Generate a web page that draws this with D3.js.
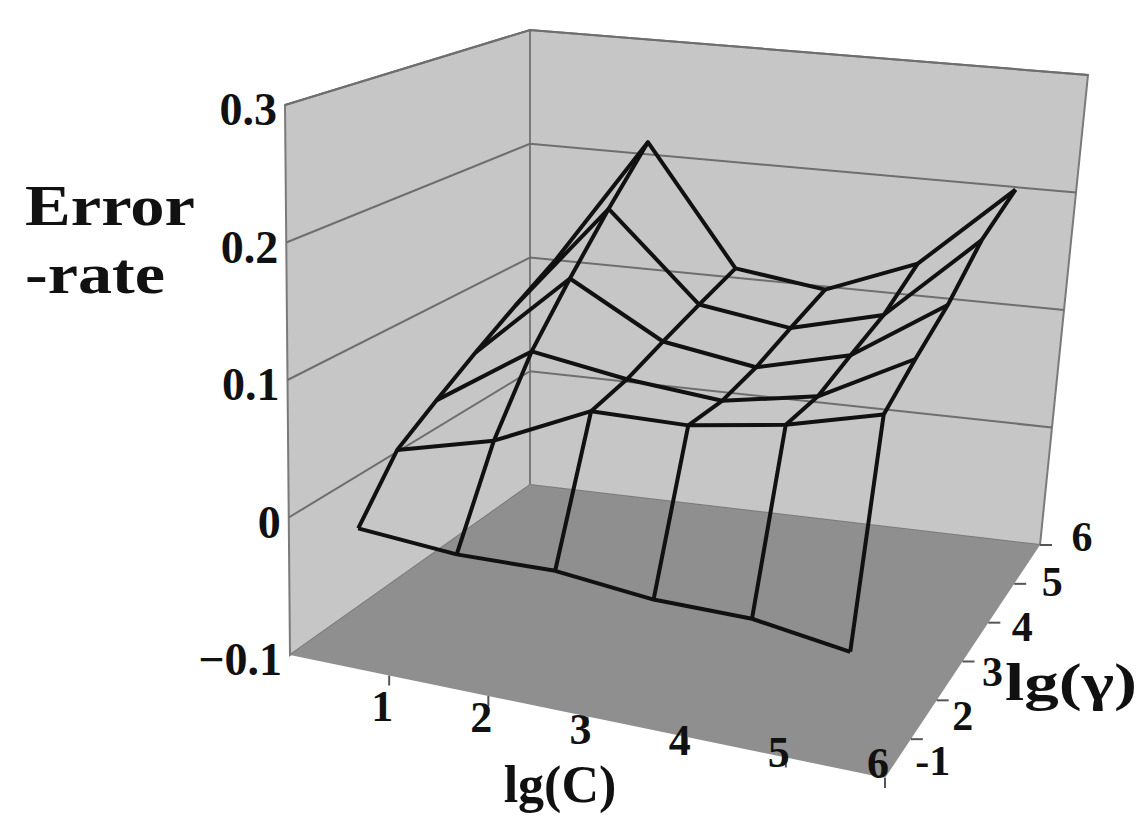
<!DOCTYPE html>
<html><head><meta charset="utf-8">
<script src="https://cdn.jsdelivr.net/npm/d3@7"></script>
<style>body{margin:0;background:#fff}text{font-family:"Liberation Serif",serif;font-weight:bold;fill:#111}</style>
</head><body><div class="chart"></div>
<script>
// lg(C) columns and lg(gamma) rows (front to back)
const cTicks = ['1', '2', '3', '4', '5', '6']
const gTicks = ['-1', '2', '3', '4', '5', '6']
const zTicks = [-0.1, 0, 0.1, 0.2, 0.3]
const errRows = [
    [-0.01, -0.015, -0.013, -0.02, -0.02, -0.03],
    [0.03, 0.05, 0.085, 0.087, 0.10, 0.12],
    [0.05, 0.10, 0.09, 0.085, 0.10, 0.14],
    [0.07, 0.14, 0.10, 0.09, 0.11, 0.16],
    [0.09, 0.18, 0.11, 0.10, 0.12, 0.19],
    [0.11, 0.22, 0.12, 0.11, 0.14, 0.21]
]

const svg = d3.select('.chart').append('svg').attr('width', 1146).attr('height', 822)

const uScale = d3.scaleLinear().domain([0, 6]).range([0, 1])
const vScale = d3.scaleLinear().domain([0, 6]).range([0, 1])
const wScale = d3.scaleLinear().domain([-0.1, 0.3]).range([0, 1])

// box corners on screen: bottom (z=-0.1) and top (z=0.3)
const botQ = { fl: [290, 655], fr: [885, 778], bl: [530, 485], br: [1040, 545] }
const topQ = { fl: [285, 105], fr: [890, 215], bl: [530, 30], br: [1088, 75] }

function bilerp(q, u, v) {
    const f = (i) => (1 - u) * (1 - v) * q.fl[i] + u * (1 - v) * q.fr[i] + (1 - u) * v * q.bl[i] + u * v * q.br[i]
    return [f(0), f(1)]
}
function project(c, g, z) {
    const u = uScale(c), v = vScale(g), w = wScale(z)
    const a = bilerp(botQ, u, v), b = bilerp(topQ, u, v)
    return [a[0] + (b[0] - a[0]) * w, a[1] + (b[1] - a[1]) * w]
}
const line = d3.line()

// walls and floor
const poly = pts => pts.map(p => p.join(',')).join(' ')
svg.append('polygon').attr('points', poly([project(0, 0, -0.1), project(0, 6, -0.1), project(0, 6, 0.3), project(0, 0, 0.3)]))
    .attr('fill', '#c6c6c6').attr('stroke', '#7a7a7a').attr('stroke-width', 2)
svg.append('polygon').attr('points', poly([project(0, 6, -0.1), project(6, 6, -0.1), project(6, 6, 0.3), project(0, 6, 0.3)]))
    .attr('fill', '#c6c6c6').attr('stroke', '#7a7a7a').attr('stroke-width', 2)
svg.append('polygon').attr('points', poly([project(0, 0, -0.1), project(6, 0, -0.1), project(6, 6, -0.1), project(0, 6, -0.1)]))
    .attr('fill', '#8f8f8f')

// wall gridlines
zTicks.slice(1).forEach(z => {
    svg.append('path').attr('d', line([project(0, 0, z), project(0, 6, z), project(6, 6, z)]))
        .attr('fill', 'none').attr('stroke', '#6e6e6e').attr('stroke-width', 2)
})

// axis ticks
cTicks.forEach((t, i) => {
    const a = project(i + 1, 0, -0.1)
    const dy = 45 - i * 9
    svg.append('line').attr('x1', a[0]).attr('y1', a[1]).attr('x2', a[0]).attr('y2', a[1] + 10).attr('stroke', '#555').attr('stroke-width', 2)
    svg.append('text').attr('x', a[0] - 7).attr('y', a[1] + dy).attr('text-anchor', 'middle').attr('font-size', 44).text(t)
})
gTicks.forEach((t, i) => {
    const a = project(6, i + 1, -0.1)
    const dx = 22 + i * 4, dy = 36 - i * 6
    svg.append('line').attr('x1', a[0]).attr('y1', a[1]).attr('x2', a[0] + 12).attr('y2', a[1]).attr('stroke', '#555').attr('stroke-width', 2)
    svg.append('text').attr('x', a[0] + dx).attr('y', a[1] + dy).attr('text-anchor', 'middle').attr('font-size', 42).text(t)
})
zTicks.forEach(z => {
    const a = project(0, 0, z)
    svg.append('text').attr('x', a[0] - 8).attr('y', a[1] + 20).attr('text-anchor', 'end').attr('font-size', 46).text(z === 0 ? '0' : d3.format('.1f')(z))
})

// surface wireframe
const wire = svg.append('g').attr('fill', 'none').attr('stroke', '#111').attr('stroke-width', 4).attr('stroke-linejoin', 'round')
errRows.forEach((row, j) => {
    wire.append('path').attr('d', line(row.map((z, i) => project(i + 0.5, j + 0.5, z))))
})
cTicks.forEach((t, i) => {
    wire.append('path').attr('d', line(errRows.map((row, j) => project(i + 0.5, j + 0.5, row[i]))))
})

// titles
svg.append('text').attr('x', 25).attr('y', 225).attr('font-size', 56).attr('textLength', 170).attr('lengthAdjust', 'spacingAndGlyphs').text('Error')
svg.append('text').attr('x', 25).attr('y', 293).attr('font-size', 56).attr('textLength', 140).attr('lengthAdjust', 'spacingAndGlyphs').text('-rate')
svg.append('text').attr('x', 560).attr('y', 802).attr('text-anchor', 'middle').attr('font-size', 52).text('lg(C)')
svg.append('text').attr('x', 1005).attr('y', 700).attr('font-size', 52).attr('textLength', 132).attr('lengthAdjust', 'spacingAndGlyphs').text('lg(γ)')
</script></body></html>
